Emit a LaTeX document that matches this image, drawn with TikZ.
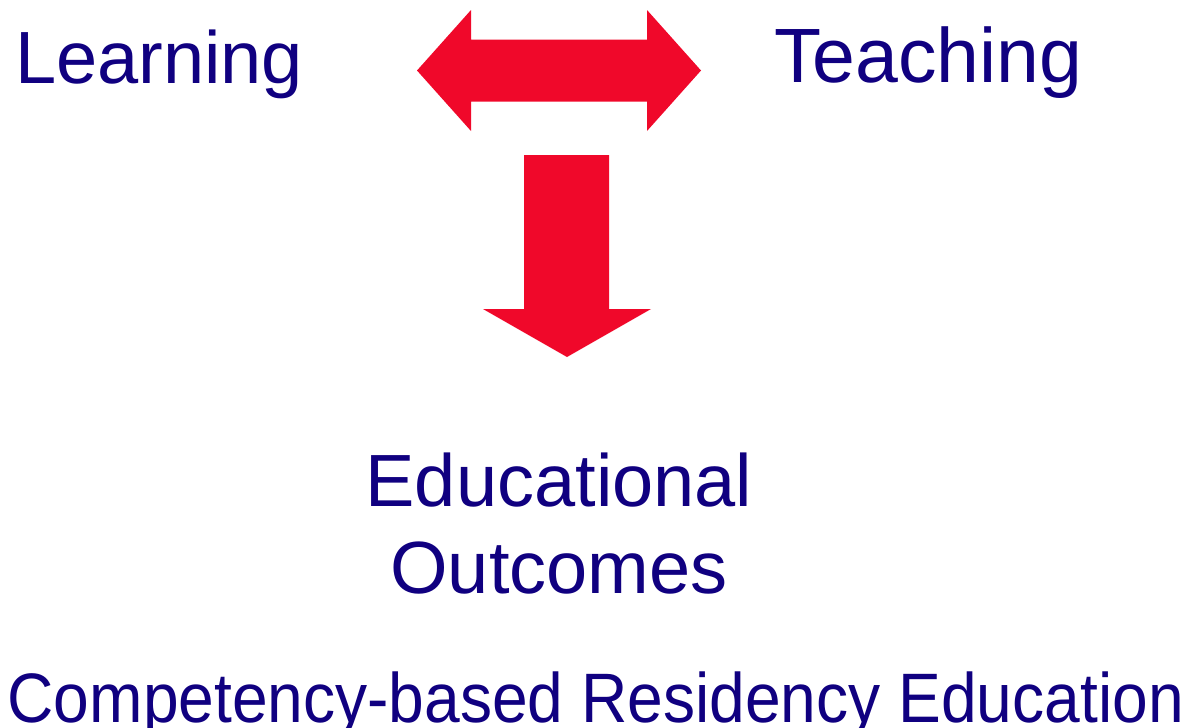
\documentclass[tikz,border=0pt]{standalone}
\usepackage{fontspec}
\setmainfont{Liberation Sans}
\usepackage{graphicx}
\usepackage{tikz}
\definecolor{arrowred}{RGB}{240,8,42}
\definecolor{textnavy}{RGB}{16,0,128}
\tikzstyle{word} = [textnavy, inner sep=0pt, font=\fontsize{74}{87}\selectfont]
\tikzstyle{caption} = [textnavy, inner sep=0pt, font=\fontsize{70}{80}\selectfont]
\tikzstyle{block} = [fill=arrowred, draw=none]

\begin{document}
\begin{tikzpicture}[x=1pt, y=-1pt]
\useasboundingbox (0,0) rectangle (1186,728);
% the three ideas
\node[word, anchor=base west] (learning) at (15,83) {Learning};
\node[word, anchor=base west, font=\fontsize{77}{87}\selectfont] (teaching) at (774,82) {Teaching};
\node[word, anchor=north, align=center] (outcomes) at (559,453) {Educational\\Outcomes};
% block arrows
\fill[block] (417,70.5) -- (471,10) -- (471,39.5) -- (647,39.5) -- (647,10)
    -- (701,70.5) -- (647,131) -- (647,101.7) -- (471,101.7) -- (471,131) -- cycle;
\fill[block] (524,155) -- (609,155) -- (609,309) -- (651,309) -- (567,357)
    -- (483,309) -- (524,309) -- cycle;
% title line
\node[caption, anchor=base west] (title) at (7.5,722)
    {\scalebox{0.916}[1]{Competency-based Residency Education}};
\end{tikzpicture}
\end{document}
